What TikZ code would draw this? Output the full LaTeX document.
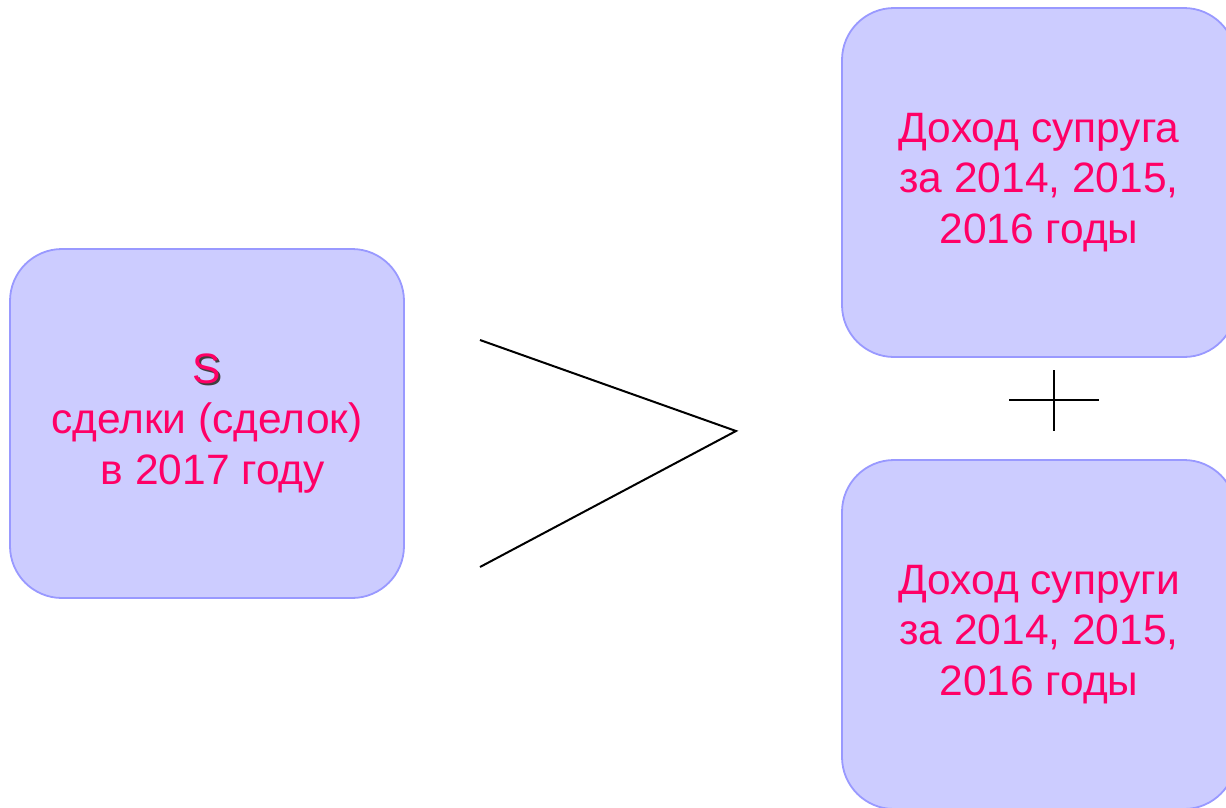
\documentclass[tikz,border=0pt]{standalone}
\usepackage{fontspec}
\setmainfont{Liberation Sans}
\definecolor{boxfill}{HTML}{CCCCFF}
\definecolor{boxline}{HTML}{9999FF}
\definecolor{textpink}{HTML}{FF0066}
\newcommand{\shadowS}{\mbox{\rlap{\hspace{1.6pt}\raisebox{-1.6pt}{\color{black!75}S}}S}}
\tikzset{
  incomebox/.style={draw=boxline, fill=boxfill, line width=1.8pt, rounded corners=52pt,
    minimum width=394pt, minimum height=349pt, align=center, text=textpink,
    font=\fontsize{42.5}{50.5}\selectfont, inner sep=0pt},
  sign/.style={line width=2pt, black}
}
\begin{document}
\begin{tikzpicture}[x=1pt, y=-1pt]
  \useasboundingbox (0,0) rectangle (1226,807);
  \clip (0,0) rectangle (1226,807);

  \node[incomebox] at (207,423.5) (deal) {\shadowS\\сделки (сделок)\\\hspace*{0.28em}в 2017 году};
  \node[incomebox] at (1039,182.5) (husband) {Доход супруга\\за 2014, 2015,\\2016 годы};
  \node[incomebox] at (1039,634.5) (wife) {Доход супруги\\за 2014, 2015,\\2016 годы};

  \coordinate (gt-top) at (480,340);
  \coordinate (gt-tip) at (736,431);
  \coordinate (gt-bot) at (480,567);
  \draw[sign] (gt-top) -- (gt-tip) -- (gt-bot);

  \coordinate (plus-l) at (1009,400);
  \coordinate (plus-r) at (1099,400);
  \coordinate (plus-t) at (1054,370);
  \coordinate (plus-b) at (1054,431);
  \draw[sign] (plus-l) -- (plus-r);
  \draw[sign] (plus-t) -- (plus-b);
\end{tikzpicture}
\end{document}
